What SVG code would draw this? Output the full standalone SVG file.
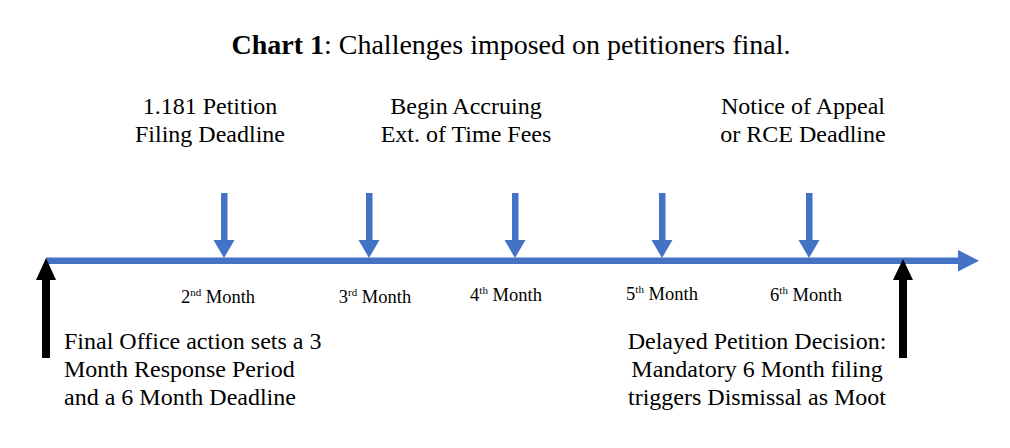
<svg xmlns="http://www.w3.org/2000/svg" width="1010" height="448" viewBox="0 0 1010 448">
<style>
text{font-family:"Liberation Serif","Times New Roman",serif;fill:#000}
.t{font-size:28px}
.l{font-size:24px}
.m{font-size:18.5px}
.s{font-size:11px}
.blue{fill:#4472C4}
.blk{fill:#000}
</style>
<rect width="1010" height="448" fill="#fff"/>
<text class="t" x="511" y="54" text-anchor="middle"><tspan font-weight="bold">Chart 1</tspan>: Challenges imposed on petitioners final.</text>
<g id="connectors">
<g id="timeline">
<rect class="blue" x="46" y="257.5" width="914" height="6.5"/>
<polygon class="blue" points="958,250 979,260.7 958,271.5"/>
</g>
<g id="arrow-2nd"><rect class="blue" x="221" y="193" width="6.5" height="48"/><polygon class="blue" points="213.5,240 234.5,240 224,258"/></g>
<g id="arrow-3rd"><rect class="blue" x="366" y="193" width="6.5" height="48"/><polygon class="blue" points="358.5,240 379.5,240 369,258"/></g>
<g id="arrow-4th"><rect class="blue" x="512" y="193" width="6.5" height="48"/><polygon class="blue" points="504.5,240 525.5,240 515,258"/></g>
<g id="arrow-5th"><rect class="blue" x="659" y="193" width="6.5" height="48"/><polygon class="blue" points="651.5,240 672.5,240 662,258"/></g>
<g id="arrow-6th"><rect class="blue" x="806" y="193" width="6.5" height="48"/><polygon class="blue" points="798.5,240 819.5,240 809,258"/></g>
<g id="arrow-start"><rect class="blk" x="42" y="278" width="8" height="80"/><polygon class="blk" points="36,280 56,280 46,258"/></g>
<g id="arrow-end"><rect class="blk" x="899" y="278" width="8" height="80"/><polygon class="blk" points="893,280 913,280 903,259"/></g>
</g>
<g id="label-petition"><text class="l" x="210" y="114" text-anchor="middle">1.181 Petition</text><text class="l" x="210" y="142" text-anchor="middle">Filing Deadline</text></g>
<g id="label-fees"><text class="l" x="466" y="114" text-anchor="middle">Begin Accruing</text><text class="l" x="466" y="142" text-anchor="middle">Ext. of Time Fees</text></g>
<g id="label-appeal"><text class="l" x="803" y="114" text-anchor="middle">Notice of Appeal</text><text class="l" x="803" y="142" text-anchor="middle">or RCE Deadline</text></g>
<g id="month-2"><text class="m" x="218" y="303" text-anchor="middle">2<tspan class="s" dy="-7">nd</tspan><tspan dy="7"> Month</tspan></text></g>
<g id="month-3"><text class="m" x="375" y="303" text-anchor="middle">3<tspan class="s" dy="-7">rd</tspan><tspan dy="7"> Month</tspan></text></g>
<g id="month-4"><text class="m" x="506" y="301" text-anchor="middle">4<tspan class="s" dy="-7">th</tspan><tspan dy="7"> Month</tspan></text></g>
<g id="month-5"><text class="m" x="662" y="300" text-anchor="middle">5<tspan class="s" dy="-7">th</tspan><tspan dy="7"> Month</tspan></text></g>
<g id="month-6"><text class="m" x="806" y="301" text-anchor="middle">6<tspan class="s" dy="-7">th</tspan><tspan dy="7"> Month</tspan></text></g>
<g id="label-final-office"><text class="l" x="64" y="349">Final Office action sets a 3</text><text class="l" x="64" y="377">Month Response Period</text><text class="l" x="64" y="405">and a 6 Month Deadline</text></g>
<g id="label-delayed"><text class="l" x="757" y="349" text-anchor="middle">Delayed Petition Decision:</text><text class="l" x="757" y="377" text-anchor="middle">Mandatory 6 Month filing</text><text class="l" x="757" y="405" text-anchor="middle">triggers Dismissal as Moot</text></g>
</svg>
